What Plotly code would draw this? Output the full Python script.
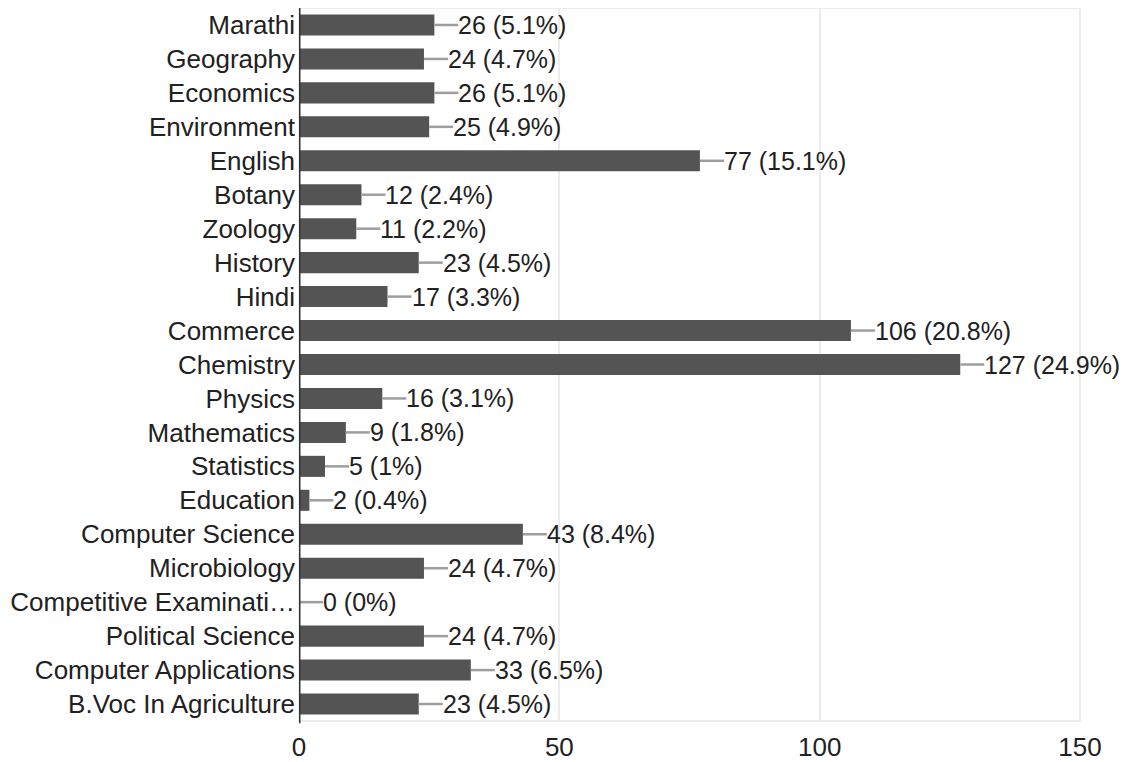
import plotly.graph_objects as go

categories = ["Marathi", "Geography", "Economics", "Environment", "English", "Botany",
              "Zoology", "History", "Hindi", "Commerce", "Chemistry", "Physics",
              "Mathematics", "Statistics", "Education", "Computer Science", "Microbiology",
              "Competitive Examinati…", "Political Science", "Computer Applications",
              "B.Voc In Agriculture"]
counts = [26, 24, 26, 25, 77, 12, 11, 23, 17, 106, 127, 16, 9, 5, 2, 43, 24, 0, 24, 33, 23]
percents = ["5.1%", "4.7%", "5.1%", "4.9%", "15.1%", "2.4%", "2.2%", "4.5%", "3.3%",
            "20.8%", "24.9%", "3.1%", "1.8%", "1%", "0.4%", "8.4%", "4.7%", "0%",
            "4.7%", "6.5%", "4.5%"]
x_ticks = [0, 50, 100, 150]

FONT = "Liberation Sans, Arial, sans-serif"
TXT = "#212121"
FS = 26
FS_ANN = 25

fig = go.Figure()
fig.add_trace(go.Bar(
    y=categories, x=counts, orientation="h",
    marker=dict(color="#545454", line=dict(width=0)),
    width=0.62, hoverinfo="skip",
))

shapes = [dict(type="rect", xref="paper", yref="paper", x0=0, x1=1, y0=0, y1=1,
               line=dict(color="#ececec", width=2), layer="below")]
annotations = []
for cat, c, p in zip(categories, counts, percents):
    shapes.append(dict(type="line", xref="x", yref="y", xsizemode="pixel",
                       xanchor=c, x0=0, x1=24, y0=cat, y1=cat,
                       line=dict(color="#9e9e9e", width=2.5)))
    annotations.append(dict(x=c, y=cat, xref="x", yref="y", text=f"{c} ({p})",
                            showarrow=False, xanchor="left", xshift=22,
                            font=dict(size=FS_ANN, color=TXT, family=FONT)))
shapes.append(dict(type="line", xref="x", yref="paper", x0=0, x1=0, y0=-0.003, y1=1.003,
                   line=dict(color="#333333", width=3)))

fig.update_layout(
    width=1121, height=754,
    margin=dict(l=291, r=49, t=0, b=34),
    paper_bgcolor="white", plot_bgcolor="white",
    font=dict(family=FONT, size=FS, color=TXT),
    showlegend=False, bargap=0.38,
    shapes=shapes, annotations=annotations,
    xaxis=dict(range=[0, 150], tickvals=x_ticks, showgrid=True, gridcolor="#ececec",
               gridwidth=2, zeroline=False, showline=False, ticks="",
               ticklabelstandoff=8,
               tickfont=dict(size=FS, color=TXT), fixedrange=True),
    yaxis=dict(categoryorder="array", categoryarray=categories, autorange="reversed",
               showgrid=False, zeroline=False, ticks="", ticklabelstandoff=3,
               tickfont=dict(size=FS, color=TXT), fixedrange=True),
)

fig.write_html("out.html")
